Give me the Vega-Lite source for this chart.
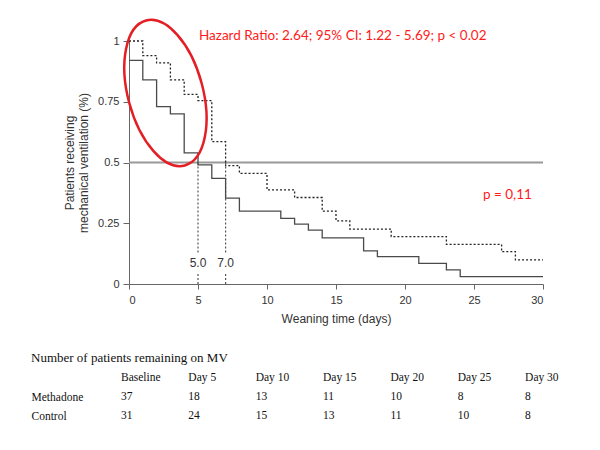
{
  "$schema": "https://vega.github.io/schema/vega-lite/v6.json",
  "padding": {"left": 31, "top": 14, "right": 5, "bottom": 5},
  "background": "white",
  "config": {"view": {"stroke": null}, "font": "Liberation Sans"},
  "bounds": "flush",
  "spacing": 94,
  "vconcat": [
    {
      "width": 414,
      "height": 243,
      "layer": [
        {
          "data": {"values": [{"level": 0.5}]},
          "mark": {"type": "rule", "color": "#999999", "strokeWidth": 2},
          "encoding": {"y": {"field": "level", "type": "quantitative"}}
        },
        {
          "data": {"values": [
            {"median": 5, "lo": 0, "hi": 0.045},
            {"median": 5, "lo": 0.13, "hi": 0.5},
            {"median": 7, "lo": 0, "hi": 0.045},
            {"median": 7, "lo": 0.13, "hi": 0.5}
          ]},
          "mark": {"type": "rule", "color": "#555555", "strokeWidth": 1.2, "strokeDash": [2, 2]},
          "encoding": {
            "x": {"field": "median", "type": "quantitative"},
            "y": {"field": "lo", "type": "quantitative"},
            "y2": {"field": "hi"}
          }
        },
        {
          "data": {"values": [
            {"group": "Methadone", "day": 0, "surv": 0.92},
            {"group": "Methadone", "day": 1, "surv": 0.84},
            {"group": "Methadone", "day": 2, "surv": 0.73},
            {"group": "Methadone", "day": 3, "surv": 0.70},
            {"group": "Methadone", "day": 4, "surv": 0.54},
            {"group": "Methadone", "day": 5, "surv": 0.49},
            {"group": "Methadone", "day": 6, "surv": 0.435},
            {"group": "Methadone", "day": 7, "surv": 0.353},
            {"group": "Methadone", "day": 8, "surv": 0.30},
            {"group": "Methadone", "day": 11, "surv": 0.27},
            {"group": "Methadone", "day": 12, "surv": 0.246},
            {"group": "Methadone", "day": 13, "surv": 0.222},
            {"group": "Methadone", "day": 14, "surv": 0.19},
            {"group": "Methadone", "day": 17, "surv": 0.136},
            {"group": "Methadone", "day": 18, "surv": 0.113},
            {"group": "Methadone", "day": 21, "surv": 0.085},
            {"group": "Methadone", "day": 23, "surv": 0.058},
            {"group": "Methadone", "day": 24, "surv": 0.03},
            {"group": "Methadone", "day": 30, "surv": 0.03},
            {"group": "Control", "day": 0, "surv": 1.0},
            {"group": "Control", "day": 1, "surv": 0.94},
            {"group": "Control", "day": 2, "surv": 0.91},
            {"group": "Control", "day": 3, "surv": 0.84},
            {"group": "Control", "day": 4, "surv": 0.78},
            {"group": "Control", "day": 5, "surv": 0.755},
            {"group": "Control", "day": 6, "surv": 0.586},
            {"group": "Control", "day": 7, "surv": 0.487},
            {"group": "Control", "day": 8, "surv": 0.455},
            {"group": "Control", "day": 10, "surv": 0.387},
            {"group": "Control", "day": 12, "surv": 0.356},
            {"group": "Control", "day": 14, "surv": 0.30},
            {"group": "Control", "day": 15, "surv": 0.26},
            {"group": "Control", "day": 16, "surv": 0.226},
            {"group": "Control", "day": 19, "surv": 0.195},
            {"group": "Control", "day": 23, "surv": 0.163},
            {"group": "Control", "day": 27, "surv": 0.133},
            {"group": "Control", "day": 28, "surv": 0.099},
            {"group": "Control", "day": 30, "surv": 0.099}
          ]},
          "mark": {"type": "line", "interpolate": "step-after", "strokeWidth": 1.3},
          "encoding": {
            "x": {
              "field": "day", "type": "quantitative",
              "scale": {"domain": [0, 30], "nice": false},
              "axis": {
                "values": [0, 5, 10, 15, 20, 25, 30], "title": "Weaning time (days)", "grid": false,
                "tickSize": 5, "labelPadding": 5, "labelFontSize": 11, "labelColor": "#333333",
                "domainColor": "#666666", "tickColor": "#666666", "titleFontSize": 12,
                "titleFontWeight": "normal", "titleColor": "#333333", "titlePadding": 8
              }
            },
            "y": {
              "field": "surv", "type": "quantitative",
              "scale": {"domain": [0, 1]},
              "axis": {
                "values": [0, 0.25, 0.5, 0.75, 1], "labelExpr": "toString(datum.value)",
                "title": ["Patients receiving", "mechanical ventilation (%)"], "grid": false,
                "tickSize": 6, "labelPadding": 4, "labelFontSize": 11, "labelColor": "#333333",
                "domainColor": "#666666", "tickColor": "#666666", "titleFontSize": 12,
                "titleFontWeight": "normal", "titleColor": "#333333", "titlePadding": 7
              }
            },
            "strokeDash": {
              "field": "group", "type": "nominal",
              "scale": {"domain": ["Methadone", "Control"], "range": [[1, 0], [2, 2]]},
              "legend": null
            },
            "color": {
              "field": "group", "type": "nominal",
              "scale": {"domain": ["Methadone", "Control"], "range": ["#4a4a4a", "#222222"]},
              "legend": null
            }
          }
        },
        {
          "data": {"values": [{"median": 5, "label": "5.0"}, {"median": 7, "label": "7.0"}]},
          "mark": {"type": "text", "fontSize": 12, "color": "#333333", "baseline": "middle"},
          "encoding": {
            "x": {"field": "median", "type": "quantitative"},
            "y": {"datum": 0.086},
            "text": {"field": "label"}
          }
        },
        {
          "data": {"values": [
            {"note": "Hazard Ratio: 2.64; 95% CI: 1.22 - 5.69; p < 0.02", "nx": 5.07, "ny": 1.02},
            {"note": "p = 0,11", "nx": 25.65, "ny": 0.366}
          ]},
          "mark": {"type": "text", "align": "left", "baseline": "middle", "font": "Lato", "fontSize": 13.5, "color": "#ff1a1a"},
          "encoding": {
            "x": {"field": "nx", "type": "quantitative"},
            "y": {"field": "ny", "type": "quantitative"},
            "text": {"field": "note"}
          }
        },
        {
          "data": {"values": [{"cx": 2.64, "cy": 0.786}]},
          "mark": {
            "type": "point", "filled": false, "stroke": "#e31e24", "strokeWidth": 2.5, "opacity": 1,
            "shape": "M 0,-1 C 0.2761,-1 0.5,-0.5523 0.5,0 C 0.5,0.5523 0.2761,1 0,1 C -0.2761,1 -0.5,0.5523 -0.5,0 C -0.5,-0.5523 -0.2761,-1 0,-1 Z",
            "size": 22500, "angle": -15
          },
          "encoding": {
            "x": {"field": "cx", "type": "quantitative"},
            "y": {"field": "cy", "type": "quantitative"}
          }
        }
      ]
    },
    {
      "width": 414,
      "height": 38,
      "title": {"text": "Number of patients remaining on MV", "anchor": "start", "frame": "bounds", "font": "Liberation Serif", "fontSize": 13, "fontWeight": "normal", "color": "#111111", "offset": 7},
      "data": {"values": [
        {"row": "header", "col": 0, "text": "Baseline"},
        {"row": "header", "col": 5, "text": "Day 5"},
        {"row": "header", "col": 10, "text": "Day 10"},
        {"row": "header", "col": 15, "text": "Day 15"},
        {"row": "header", "col": 20, "text": "Day 20"},
        {"row": "header", "col": 25, "text": "Day 25"},
        {"row": "header", "col": 30, "text": "Day 30"},
        {"row": "Methadone", "col": 0, "text": "37"},
        {"row": "Methadone", "col": 5, "text": "18"},
        {"row": "Methadone", "col": 10, "text": "13"},
        {"row": "Methadone", "col": 15, "text": "11"},
        {"row": "Methadone", "col": 20, "text": "10"},
        {"row": "Methadone", "col": 25, "text": "8"},
        {"row": "Methadone", "col": 30, "text": "8"},
        {"row": "Control", "col": 0, "text": "31"},
        {"row": "Control", "col": 5, "text": "24"},
        {"row": "Control", "col": 10, "text": "15"},
        {"row": "Control", "col": 15, "text": "13"},
        {"row": "Control", "col": 20, "text": "11"},
        {"row": "Control", "col": 25, "text": "10"},
        {"row": "Control", "col": 30, "text": "8"}
      ]},
      "mark": {"type": "text", "align": "left", "baseline": "middle", "font": "Liberation Serif", "fontSize": 11.5, "color": "#111111"},
      "encoding": {
        "x": {"field": "col", "type": "quantitative", "scale": {"domain": [0.594, 31.33], "nice": false, "zero": false}, "axis": null},
        "y": {
          "field": "row", "type": "nominal",
          "scale": {"type": "point", "padding": 0, "domain": ["header", "Methadone", "Control"]},
          "axis": {"title": null, "domain": false, "ticks": false, "tickSize": 0, "labelAlign": "left", "labelPadding": 98, "labelFont": "Liberation Serif", "labelFontSize": 11.5, "labelColor": "#111111", "labelExpr": "datum.value == 'header' ? '' : datum.value"}
        },
        "text": {"field": "text"}
      }
    }
  ]
}
